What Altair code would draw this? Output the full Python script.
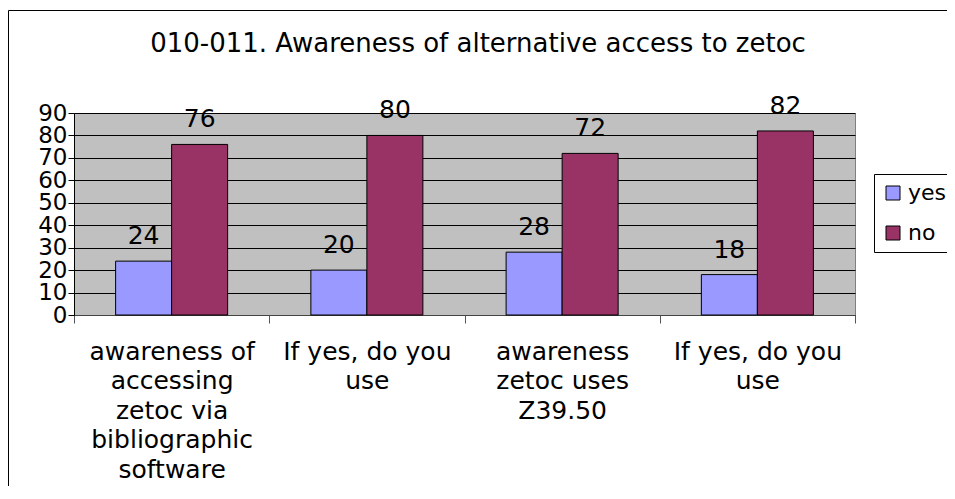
import json
import altair as alt
import pandas as pd

title_text = "010-011. Awareness of alternative access to zetoc"
category_lines = [
    ["awareness of", "accessing", "zetoc via", "bibliographic", "software"],
    ["If yes, do you", "use"],
    ["awareness", "zetoc uses", "Z39.50"],
    ["If yes, do you", "use"],
]
series_names = ["yes", "no"]
yes_values = [24, 20, 28, 18]
no_values = [76, 80, 72, 82]
series_colors = ["#9999FF", "#993366"]
y_ticks = [0, 10, 20, 30, 40, 50, 60, 70, 80, 90]

rows = []
for i in range(len(category_lines)):
    rows.append({"cat": str(i), "series": "yes", "value": yes_values[i]})
    rows.append({"cat": str(i), "series": "no", "value": no_values[i]})
df = pd.DataFrame(rows)
cat_ids = [str(i) for i in range(len(category_lines))]

FONT = "DejaVu Sans"
W, H = 781, 202

label_expr = json.dumps(category_lines) + "[toNumber(datum.value)]"

x_enc = alt.X(
    "cat:N",
    sort=cat_ids,
    scale=alt.Scale(paddingInner=0, paddingOuter=0),
    axis=alt.Axis(
        title=None,
        labelExpr=label_expr,
        labelAngle=0,
        labelFontSize=25,
        labelFont=FONT,
        labelColor="black",
        labelLineHeight=29.5,
        labelBaseline="top",
        labelPadding=16,
        labelLimit=400,
        labelOverlap=False,
        tickBand="extent",
        tickSize=8,
        tickColor="#555555",
        domainColor="#444444",
        grid=False,
    ),
)
xoff_enc = alt.XOffset(
    "series:N",
    sort=series_names,
    scale=alt.Scale(paddingInner=0, paddingOuter=0.743),
)
y_enc = alt.Y(
    "value:Q",
    scale=alt.Scale(domain=[0, 90], nice=False, zero=True),
    axis=alt.Axis(
        title=None,
        values=y_ticks,
        grid=True,
        gridColor="black",
        gridWidth=1,
        tickSize=6,
        tickColor="black",
        domainColor="black",
        labelFontSize=23,
        labelFont=FONT,
        labelColor="black",
        labelPadding=1,
        labelOverlap=False,
        labelBound=False,
        labelFlush=False,
    ),
)

base = alt.Chart(df)

bars = base.mark_bar(stroke="black", strokeWidth=1).encode(
    x=x_enc,
    xOffset=xoff_enc,
    y=y_enc,
    color=alt.Color(
        "series:N",
        sort=series_names,
        scale=alt.Scale(domain=series_names, range=series_colors),
        legend=alt.Legend(
            title=None,
            orient="none",
            legendX=800,
            legendY=61,
            symbolType="square",
            symbolSize=196,
            symbolStrokeColor="black",
            symbolStrokeWidth=1,
            labelFontSize=22,
            labelFont=FONT,
            labelColor="black",
            labelOffset=4,
            padding=8,
            rowPadding=18,
            strokeColor="black",
            fillColor="white",
        ),
    ),
)

labels = base.mark_text(
    dy=-17, baseline="alphabetic", fontSize=25, font=FONT, color="black"
).encode(
    x=x_enc,
    xOffset=xoff_enc,
    y=y_enc,
    text=alt.Text("value:Q"),
)

frame = alt.Chart(pd.DataFrame({"k": [0]})).mark_rect(
    fill="transparent", stroke="black", strokeWidth=1
).encode(
    x=alt.value(-65.5),
    x2=alt.value(1000),
    y=alt.value(-102.5),
    y2=alt.value(600),
)

chart = (
    alt.layer(frame, bars, labels)
    .properties(
        width=W,
        height=H,
        title=alt.TitleParams(
            text=title_text,
            font=FONT,
            fontSize=26,
            fontWeight="normal",
            color="black",
            anchor="middle",
            frame="group",
            dx=13.5,
            baseline="alphabetic",
            offset=-67.5,
        ),
        autosize=alt.AutoSizeParams(type="none"),
        padding={"left": 66, "top": 105, "right": 92, "bottom": 171},
    )
    .configure(background="white")
    .configure_view(fill="#C0C0C0", stroke="#808080", strokeWidth=1)
)

chart.save("out.html", embed_options={"renderer": "svg", "actions": False})
